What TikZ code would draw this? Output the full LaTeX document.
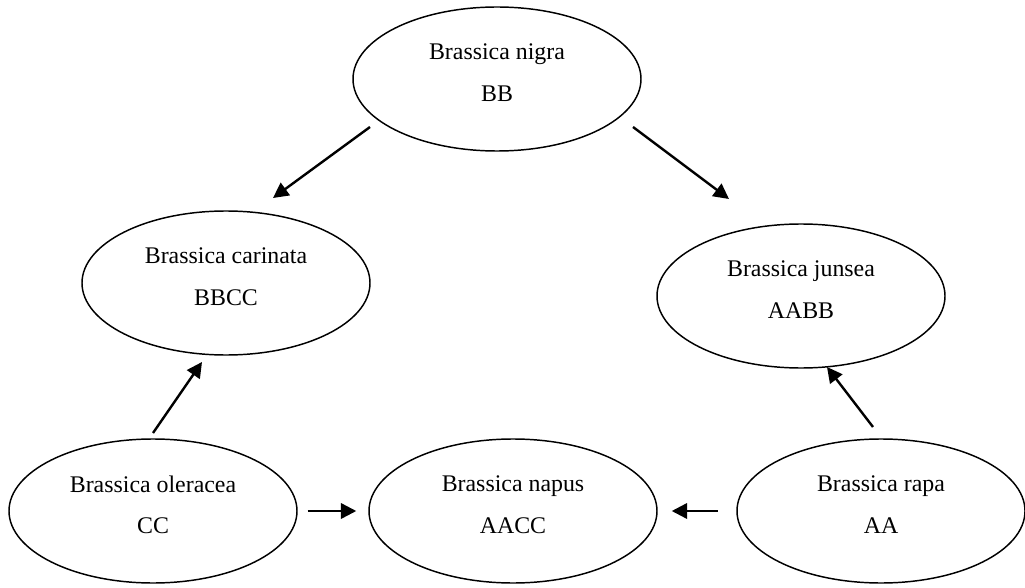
\documentclass[tikz,border=0pt]{standalone}
\usepackage{fontspec}
\setmainfont{Liberation Serif}
\usetikzlibrary{shapes.geometric, arrows.meta}

\begin{document}
\begin{tikzpicture}[x=0.75pt, y=-0.75pt,
  species/.style={draw, ellipse, line width=1.1pt, minimum width=216pt, minimum height=108pt,
    inner sep=0pt, align=center, font=\fontsize{17.9}{31.3}\selectfont},
  cross/.style={line width=1.8pt, -{Triangle[length=11.5pt, width=11.5pt]}}]
  \useasboundingbox (0,0) rectangle (1025,588);
  \node[species] (nigra) at (497,79) {Brassica nigra\\ BB\strut};
  \node[species] (carinata) at (226,283) {Brassica carinata\\ BBCC\strut};
  \node[species] (junsea) at (801,296) {Brassica junsea\\ AABB\strut};
  \node[species] (oleracea) at (153,511) {Brassica oleracea\\ CC\strut};
  \node[species] (napus) at (513,511) {Brassica napus\\ AACC\strut};
  \node[species] (rapa) at (881,511) {Brassica rapa\\ AA\strut};
  \draw[cross] ([shift={(-127,48)}]nigra.center) -- ([shift={(47,-85)}]carinata.center);
  \draw[cross] ([shift={(136,48)}]nigra.center) -- ([shift={(-72,-97)}]junsea.center);
  \draw[cross] ([shift={(0,-78)}]oleracea.center) -- ([shift={(-24,79)}]carinata.center);
  \draw[cross] ([shift={(-8,-84)}]rapa.center) -- ([shift={(26,71)}]junsea.center);
  \draw[cross, shorten <=7.5pt, shorten >=9pt] (oleracea) -- (napus);
  \draw[cross, shorten <=14pt, shorten >=10.5pt] (rapa) -- (napus);
\end{tikzpicture}
\end{document}
